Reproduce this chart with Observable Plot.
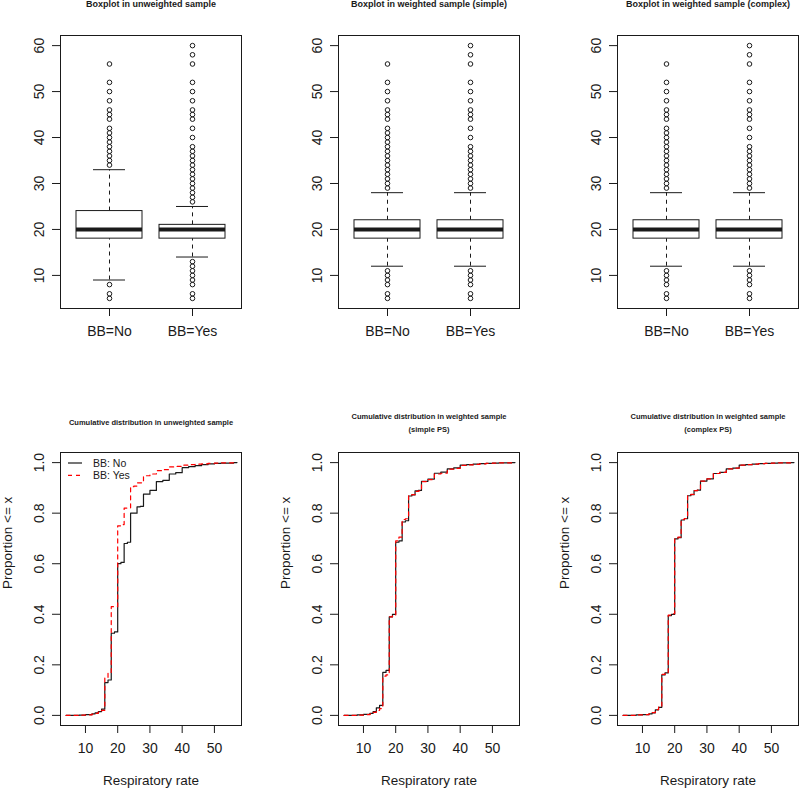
<!DOCTYPE html>
<html><head><meta charset="utf-8">
<script src="https://cdn.jsdelivr.net/npm/d3@7"></script>
<script src="https://cdn.jsdelivr.net/npm/@observablehq/plot@0.6"></script>
<style>
body{margin:0;background:#fff}
#root{position:relative;width:800px;height:788px;overflow:hidden;background:#fff}
.panel{position:absolute;width:270px}
.panel svg{max-width:none !important}
</style></head><body><div id="root"></div>
<script>
// ---------- data ----------
const groups = ["BB=No", "BB=Yes"];
const boxTitles = ["Boxplot in unweighted sample", "Boxplot in weighted sample (simple)", "Boxplot in weighted sample (complex)"];
// [lower whisker, Q1, median, Q3, upper whisker]
const unwNoStats = [9, 18, 20, 24, 33];
const unwYesStats = [14, 18, 20, 21, 25];
const simNoStats = [12, 18, 20, 22, 28];
const simYesStats = [12, 18, 20, 22, 28];
const cpxNoStats = [12, 18, 20, 22, 28];
const cpxYesStats = [12, 18, 20, 22, 28];
const unwNoOut = [5, 6, 8, 34, 35, 36, 37, 38, 39, 40, 41, 42, 44, 45, 46, 48, 50, 52, 56];
const unwYesOut = [5, 6, 8, 9, 10, 11, 12, 13, 26, 27, 28, 29, 30, 31, 32, 33, 34, 35, 36, 37, 38, 40, 42, 44, 45, 46, 48, 50, 52, 56, 58, 60];
const simNoOut = [5, 6, 8, 9, 10, 11, 29, 30, 31, 32, 33, 34, 35, 36, 37, 38, 39, 40, 41, 42, 44, 45, 46, 48, 50, 52, 56];
const simYesOut = [5, 6, 8, 9, 10, 11, 29, 30, 31, 32, 33, 34, 35, 36, 37, 38, 40, 42, 44, 45, 46, 48, 50, 52, 56, 58, 60];
const cpxNoOut = [5, 6, 8, 9, 10, 11, 29, 30, 31, 32, 33, 34, 35, 36, 37, 38, 39, 40, 41, 42, 44, 45, 46, 48, 50, 52, 56];
const cpxYesOut = [5, 6, 8, 9, 10, 11, 29, 30, 31, 32, 33, 34, 35, 36, 37, 38, 40, 42, 44, 45, 46, 48, 50, 52, 56, 58, 60];
const boxYTicks = [10, 20, 30, 40, 50, 60];

const cdfTitles = ["Cumulative distribution in unweighted sample", "Cumulative distribution in weighted sample\n(simple PS)", "Cumulative distribution in weighted sample\n(complex PS)"];
const rates = [4, 8, 10, 12, 13, 14, 15, 16, 17, 18, 19, 20, 21, 22, 23, 24, 25, 26, 27, 28, 30, 32, 34, 36, 38, 40, 42, 44, 46, 48, 50, 52, 56, 57];
const unwNoCdf = [0, 0.001, 0.003, 0.006, 0.01, 0.015, 0.025, 0.13, 0.14, 0.325, 0.33, 0.60, 0.605, 0.68, 0.685, 0.80, 0.80, 0.825, 0.827, 0.875, 0.89, 0.925, 0.93, 0.955, 0.96, 0.98, 0.984, 0.988, 0.992, 0.995, 0.997, 0.998, 1, 1];
const unwYesCdf = [0, 0.001, 0.002, 0.005, 0.008, 0.013, 0.02, 0.15, 0.17, 0.43, 0.43, 0.75, 0.755, 0.82, 0.82, 0.905, 0.907, 0.92, 0.92, 0.948, 0.955, 0.968, 0.972, 0.983, 0.985, 0.99, 0.992, 0.994, 0.995, 0.997, 0.998, 0.999, 1, 1];
const simNoCdf = [0, 0.002, 0.004, 0.008, 0.015, 0.03, 0.04, 0.17, 0.178, 0.39, 0.40, 0.685, 0.69, 0.765, 0.77, 0.868, 0.872, 0.888, 0.89, 0.926, 0.935, 0.958, 0.962, 0.975, 0.979, 0.99, 0.992, 0.994, 0.996, 0.997, 0.998, 0.999, 1, 1];
const simYesCdf = [0, 0.001, 0.003, 0.006, 0.012, 0.02, 0.027, 0.155, 0.16, 0.39, 0.395, 0.69, 0.705, 0.775, 0.778, 0.87, 0.873, 0.886, 0.888, 0.925, 0.933, 0.955, 0.958, 0.974, 0.977, 0.989, 0.991, 0.993, 0.995, 0.997, 0.998, 0.999, 1, 1];
const cpxNoCdf = [0, 0.002, 0.003, 0.006, 0.01, 0.022, 0.032, 0.16, 0.168, 0.395, 0.40, 0.698, 0.703, 0.773, 0.778, 0.869, 0.873, 0.889, 0.891, 0.927, 0.936, 0.957, 0.961, 0.975, 0.978, 0.99, 0.992, 0.994, 0.996, 0.997, 0.998, 0.999, 1, 1];
const cpxYesCdf = [0, 0.002, 0.003, 0.006, 0.011, 0.023, 0.033, 0.162, 0.17, 0.397, 0.402, 0.70, 0.705, 0.775, 0.779, 0.870, 0.874, 0.889, 0.891, 0.927, 0.936, 0.957, 0.961, 0.975, 0.978, 0.99, 0.992, 0.994, 0.996, 0.997, 0.998, 0.999, 1, 1];
const cdfXTicks = [10, 20, 30, 40, 50];
const cdfYTicks = [0, 0.2, 0.4, 0.6, 0.8, 1.0];
const legendLabels = ["BB: No", "BB: Yes"];

// ---------- styling ----------
const FONT = "'Liberation Sans', Arial, sans-serif";
const INK = "#1a1a1a";
const RED = "#ff0000";
const colLeft = [0, 278, 557];

function boxPanel(title, statsNo, statsYes, outNo, outYes) {
  const stats = [statsNo, statsYes];
  const outs = [outNo, outYes];
  const boxes = groups.map((g, i) => ({group: g, lo: stats[i][0], q1: stats[i][1], med: stats[i][2], q3: stats[i][3], hi: stats[i][4]}));
  const pts = groups.flatMap((g, i) => outs[i].map(v => ({group: g, value: v})));
  return Plot.plot({
    width: 270, height: 360, marginTop: 35, marginBottom: 52, marginLeft: 60, marginRight: 29,
    style: {fontFamily: FONT, fontSize: "14px", color: INK, background: "transparent", overflow: "visible"},
    x: {type: "band", domain: groups, paddingInner: 0.2, paddingOuter: 0.178},
    y: {domain: [2.8, 62.2]},
    marks: [
      Plot.ruleX(boxes, {x: "group", y1: "q3", y2: "hi", stroke: INK, strokeDasharray: "4,4"}),
      Plot.ruleX(boxes, {x: "group", y1: "lo", y2: "q1", stroke: INK, strokeDasharray: "4,4"}),
      Plot.tickY(boxes, {x: "group", y: "hi", stroke: INK, insetLeft: 17, insetRight: 17}),
      Plot.tickY(boxes, {x: "group", y: "lo", stroke: INK, insetLeft: 17, insetRight: 17}),
      Plot.barY(boxes, {x: "group", y1: "q1", y2: "q3", fill: "white", stroke: INK, strokeWidth: 1}),
      Plot.tickY(boxes, {x: "group", y: "med", stroke: INK, strokeWidth: 4}),
      Plot.dot(pts, {x: "group", y: "value", r: 2.3, stroke: INK, strokeWidth: 1, fill: "none"}),
      Plot.frame({stroke: INK}),
      Plot.axisY(boxYTicks, {tickSize: 8, tickRotate: -90, tickPadding: 9, label: null, stroke: INK}),
      Plot.axisX({tickSize: 8, tickPadding: 10, label: null, stroke: INK}),
      Plot.text([title], {frameAnchor: "top", lineAnchor: "middle", dy: -31, fontWeight: "bold", fontSize: 9, fill: INK})
    ]
  });
}

function legendMark(index, scales, values, dim) {
  const g = d3.create("svg:g").attr("text-anchor", "start");
  const colors = [INK, RED];
  const dashes = [null, "4,4"];
  legendLabels.forEach((lab, i) => {
    const y = dim.marginTop + 11 + i * 12.3;
    const x0 = dim.marginLeft + 8;
    g.append("line").attr("x1", x0).attr("x2", x0 + 14).attr("y1", y).attr("y2", y)
      .attr("stroke", colors[i]).attr("stroke-width", 1.2).attr("stroke-dasharray", dashes[i]);
    g.append("text").attr("x", x0 + 25).attr("y", y).attr("dy", "0.35em").attr("text-anchor", "start")
      .attr("font-size", 10.5).attr("font-family", FONT).attr("fill", INK).text(lab);
  });
  return g.node();
}

function cdfPanel(title, noVals, yesVals, withLegend) {
  const noData = rates.map((r, i) => ({rate: r, p: noVals[i]}));
  const yesData = rates.map((r, i) => ({rate: r, p: yesVals[i]}));
  const marks = [
    Plot.line(noData, {x: "rate", y: "p", curve: "step-after", stroke: INK, strokeWidth: 1.2}),
    Plot.line(yesData, {x: "rate", y: "p", curve: "step-after", stroke: RED, strokeWidth: 1.2, strokeDasharray: "4,4"}),
    Plot.frame({stroke: INK}),
    Plot.axisY(cdfYTicks, {tickSize: 8, tickRotate: -90, tickPadding: 9, tickFormat: d3.format(".1f"), label: null, stroke: INK}),
    Plot.axisX(cdfXTicks, {tickSize: 8, tickPadding: 10, label: null, stroke: INK}),
    Plot.text([title], {frameAnchor: "top", lineAnchor: "middle", dy: -31, fontWeight: "bold", fontSize: 7.5, lineHeight: 1.65, fill: INK}),
    Plot.text(["Proportion <= x"], {frameAnchor: "left", lineAnchor: "middle", dx: -53, rotate: -90, fontSize: 13.5, fill: INK}),
    Plot.text(["Respiratory rate"], {frameAnchor: "bottom", lineAnchor: "middle", dy: 55, fontSize: 13.5, fill: INK})
  ];
  if (withLegend) marks.push(legendMark);
  return Plot.plot({
    width: 270, height: 371, marginTop: 35, marginBottom: 63, marginLeft: 60, marginRight: 29,
    style: {fontFamily: FONT, fontSize: "14px", color: INK, background: "transparent", overflow: "visible"},
    x: {domain: [2.26, 58.4]},
    y: {domain: [-0.04, 1.04]},
    marks
  });
}

const root = document.getElementById("root");
function place(el, left, top) {
  const d = document.createElement("div");
  d.className = "panel";
  d.style.left = left + "px";
  d.style.top = top + "px";
  d.appendChild(el);
  root.appendChild(d);
}

place(boxPanel(boxTitles[0], unwNoStats, unwYesStats, unwNoOut, unwYesOut), colLeft[0], 0);
place(boxPanel(boxTitles[1], simNoStats, simYesStats, simNoOut, simYesOut), colLeft[1], 0);
place(boxPanel(boxTitles[2], cpxNoStats, cpxYesStats, cpxNoOut, cpxYesOut), colLeft[2], 0);
place(cdfPanel(cdfTitles[0], unwNoCdf, unwYesCdf, true), colLeft[0], 417);
place(cdfPanel(cdfTitles[1], simNoCdf, simYesCdf, false), colLeft[1], 417);
place(cdfPanel(cdfTitles[2], cpxNoCdf, cpxYesCdf, false), colLeft[2], 417);
</script></body></html>
